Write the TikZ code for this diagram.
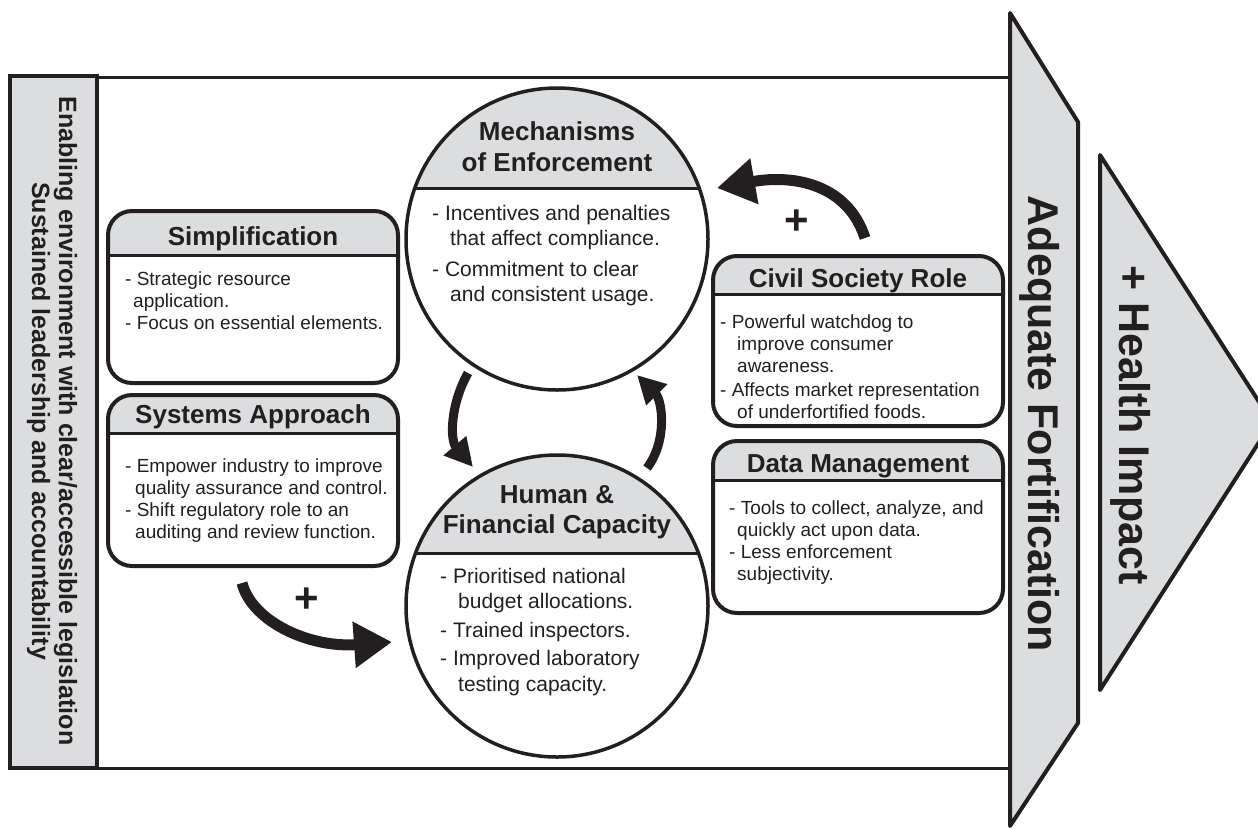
\documentclass[tikz,border=0pt]{standalone}
\usepackage{fontspec}
\setmainfont{Liberation Sans}
\usetikzlibrary{arrows.meta}
\definecolor{ink}{HTML}{231F20}
\definecolor{panel}{HTML}{DCDDDE}
\tikzset{
  box/.style={draw=ink, line width=4pt, rounded corners=24pt, rectangle, inner sep=0pt},
  disc/.style={draw=ink, line width=3.5pt, circle, inner sep=0pt, minimum size=302pt},
  divider/.style={draw=ink, line width=3pt},
  title/.style={font=\bfseries\fontsize{26}{30}\selectfont, text=ink, inner sep=0pt, anchor=base},
  cbody/.style={font=\fontsize{21}{25.5}\selectfont, text=ink, inner sep=0pt, align=left, anchor=north west},
  bbody/.style={font=\fontsize{19}{22}\selectfont, text=ink, inner sep=0pt, align=left, anchor=north west},
  bigarrow/.style={draw=ink, line width=11pt, -{Triangle[length=38pt,width=44pt]}},
  smallarrow/.style={draw=ink, line width=9pt, -{Triangle[length=28pt,width=28pt]}},
  plussign/.style={font=\bfseries\fontsize{42}{42}\selectfont, text=ink, inner sep=0pt},
  chevron/.style={fill=panel, draw=ink, line width=4pt, line join=round}
}
\begin{document}
\begin{tikzpicture}[x=1pt,y=-1pt]
\useasboundingbox (0,0) rectangle (1258,828);

% outer frame
\draw[ink, line width=3pt] (10,77) -- (1015,77);
\draw[ink, line width=3pt] (10,768) -- (1015,768);
\draw[fill=panel, draw=ink, line width=4pt] (10,76) rectangle (97,768);
\node[rotate=-90, font=\bfseries\fontsize{25}{27}\selectfont, align=center, text=ink, inner sep=0pt] (env) at (52,421)
  {Enabling environment with clear/accessible legislation\\Sustained leadership and accountability};

% chevrons
\draw[chevron] (1010,13) -- (1078,122) -- (1078,723) -- (1010,826) -- cycle;
\draw[chevron] (1100,155) -- (1272,422) -- (1100,690) -- cycle;
\node[rotate=-90, font=\bfseries\fontsize{43}{43}\selectfont, text=ink, inner sep=0pt] (adeq) at (1040,424) {Adequate Fortification};
\node[rotate=-90, font=\bfseries\fontsize{43}{43}\selectfont, text=ink, inner sep=0pt] (health) at (1131,425) {+ Health Impact};

% Simplification box
\begin{scope}
\clip[rounded corners=24pt] (108,211) rectangle (398,383);
\fill[panel] (108,211) rectangle (398,255);
\end{scope}
\draw[divider] (108,255) -- (398,255);
\node[box, minimum width=290pt, minimum height=172pt] (simp) at (253,297) {};
\node[title] (simpT) at (253,245) {Simplification};
\node[bbody] (simpB) at (125,272) {- Strategic resource\\\hspace*{8pt}application.\\- Focus on essential elements.};

% Systems box
\begin{scope}
\clip[rounded corners=24pt] (108,395) rectangle (398,566);
\fill[panel] (108,395) rectangle (398,433);
\end{scope}
\draw[divider] (108,433) -- (398,433);
\node[box, minimum width=290pt, minimum height=171pt] (sys) at (253,480.5) {};
\node[title] (sysT) at (253,423) {Systems Approach};
\node[bbody] (sysB) at (125,459) {- Empower industry to improve\\\hspace*{10pt}quality assurance and control.\\- Shift regulatory role to an\\\hspace*{10pt}auditing and review function.};

% Civil society box
\begin{scope}
\clip[rounded corners=24pt] (713,256) rectangle (1003,426);
\fill[panel] (713,256) rectangle (1003,294);
\end{scope}
\draw[divider] (713,294) -- (1003,294);
\node[box, minimum width=290pt, minimum height=170pt] (civil) at (858,341) {};
\node[title] (civilT) at (858,287) {Civil Society Role};
\node[bbody] (civilB) at (720,315) {- Powerful watchdog to\\\hspace*{17pt}improve consumer\\\hspace*{17pt}awareness.\\[2pt]- Affects market representation\\\hspace*{17pt}of underfortified foods.};

% Data management box
\begin{scope}
\clip[rounded corners=24pt] (713,441) rectangle (1003,613);
\fill[panel] (713,441) rectangle (1003,480);
\end{scope}
\draw[divider] (713,480) -- (1003,480);
\node[box, minimum width=290pt, minimum height=172pt] (data) at (858,527) {};
\node[title] (dataT) at (858,472) {Data Management};
\node[bbody] (dataB) at (729,501) {- Tools to collect, analyze, and\\\hspace*{8pt}quickly act upon data.\\- Less enforcement\\\hspace*{8pt}subjectivity.};

% Mechanisms circle
\begin{scope}
\clip (557,239) circle (151pt);
\fill[panel] (400,80) rectangle (715,188);
\end{scope}
\draw[divider] (415,188) -- (699,188);
\node[disc] (mech) at (557,239) {};
\node[title] (mechT1) at (557,140) {Mechanisms};
\node[title] (mechT2) at (557,171) {of Enforcement};
\node[cbody] (mechB) at (432,205) {- Incentives and penalties\\\hspace*{18pt}that affect compliance.\\[5pt]- Commitment to clear\\\hspace*{18pt}and consistent usage.};

% Human & Financial circle
\begin{scope}
\clip (557,606) circle (151pt);
\fill[panel] (400,440) rectangle (715,553);
\end{scope}
\draw[divider] (416,553) -- (698,553);
\node[disc] (human) at (557,606) {};
\node[title] (humanT1) at (557,503) {Human \&};
\node[title] (humanT2) at (557,533) {Financial Capacity};
\node[cbody] (humanB) at (440,568) {- Prioritised national\\\hspace*{18pt}budget allocations.\\[3pt]- Trained inspectors.\\[3pt]- Improved laboratory\\\hspace*{18pt}testing capacity.};

% arrows
\coordinate (a1s) at (865,238);
\coordinate (a1e) at (717,188);
\draw[bigarrow] (a1s) .. controls (848,185) and (795,174) .. (a1e);
\node[plussign] (plus1) at (797,222) {+};

\coordinate (a2s) at (468,373);
\coordinate (a2e) at (473,467);
\draw[smallarrow] (a2s) .. controls (450,405) and (450,440) .. (a2e);

\coordinate (a3s) at (647,468);
\coordinate (a3e) at (637,375);
\draw[smallarrow] (a3s) .. controls (668,440) and (662,400) .. (a3e);

\coordinate (a4s) at (242,583);
\coordinate (a4e) at (392,642);
\draw[bigarrow] (a4s) .. controls (252,622) and (310,648) .. (a4e);
\node[plussign] (plus2) at (307,600) {+};
\end{tikzpicture}
\end{document}
